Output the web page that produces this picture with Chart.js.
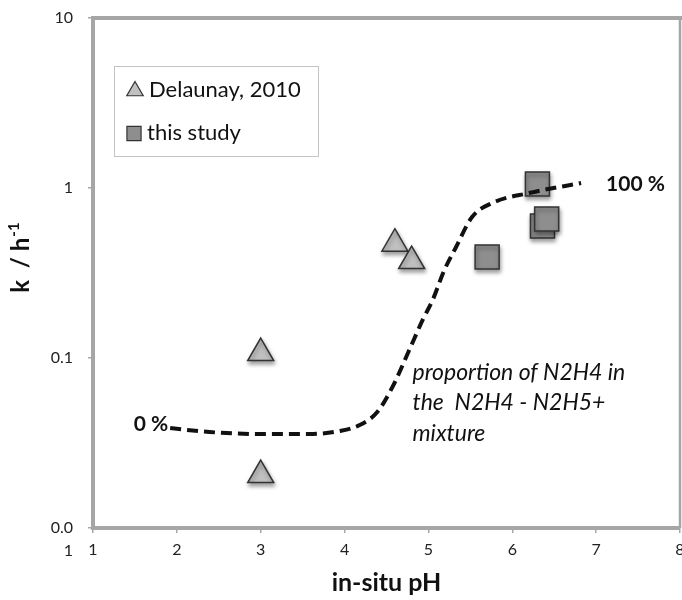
<!DOCTYPE html>
<html>
<head>
<meta charset="utf-8">
<script src="https://cdn.jsdelivr.net/npm/chart.js@4.4.1/dist/chart.umd.min.js"></script>
<style>
  html, body { margin: 0; padding: 0; background: #ffffff; }
  #wrap { width: 682px; height: 600px; }
</style>
</head>
<body>
<div id="wrap"><canvas id="c" width="682" height="600"></canvas></div>
<script>
// Delaunay, 2010: rate constants k (h^-1) against in-situ pH
const delaunayPH = [3.0, 3.0, 4.6, 4.8];
const delaunayK  = [0.107, 0.0205, 0.47, 0.372];

// this study
const studyPH = [5.7, 6.3, 6.36, 6.41];
const studyK  = [0.393, 1.057, 0.598, 0.657];

// proportion of N2H4 in the N2H4 - N2H5+ mixture (0 % .. 100 %), on the k axis
const curvePH = [1.92, 2.39, 2.99, 3.58, 3.94, 4.18, 4.39, 4.57, 4.77, 4.93, 5.05, 5.19, 5.33, 5.52, 5.76, 6.20, 6.82];
const curveK  = [0.0387, 0.0367, 0.0357, 0.0357, 0.0372, 0.0403, 0.0481, 0.0674, 0.111, 0.167, 0.219, 0.329, 0.450, 0.675, 0.816, 0.934, 1.07];

// axis ticks
const xTickValues = [1, 2, 3, 4, 5, 6, 7, 8];
const yTickValues = [0.01, 0.1, 1, 10];
const yTickLabels = [['', '0.0', '1'], '0.1', '1', '10'];

// texts
const seriesNames = ['Delaunay, 2010', 'this study'];
const curveStartText = '0 %';
const curveEndText = '100 %';
const noteLines = ['proportion of N2H4 in', 'the  N2H4 - N2H5+', 'mixture'];
const xTitle = 'in-situ pH';
const yTitleMain = 'k  / h';
const yTitleSup = '-1';

const FONT = 'Lato, "Open Sans", sans-serif';
const AXIS_GREY = '#a6a6a6';

const toPoints = (xs, ys) => xs.map((x, i) => ({ x: x, y: ys[i] }));

// labels may overhang the plot edges; the layout keeps no room for them
function noOverhang(s) {
  s.paddingLeft = 0;
  s.paddingRight = 0;
  s.paddingTop = 0;
  s.paddingBottom = 0;
}

// frame, marker shadows, legend, titles and annotations
const decor = {
  id: 'decor',
  beforeDatasetsDraw(chart) {
    const { ctx, chartArea: a } = chart;
    ctx.save();
    ctx.strokeStyle = AXIS_GREY;
    ctx.lineWidth = 4;
    ctx.beginPath();
    ctx.moveTo(a.left, a.top);
    ctx.lineTo(chart.width, a.top);
    ctx.stroke();
    ctx.lineWidth = 2.5;
    ctx.beginPath();
    ctx.moveTo(a.right, a.top);
    ctx.lineTo(a.right, a.bottom);
    ctx.stroke();
    ctx.restore();
  },
  beforeDatasetDraw(chart, args) {
    if (chart.data.datasets[args.index].shadow) {
      const ctx = chart.ctx;
      ctx.save();
      ctx.shadowColor = 'rgba(0,0,0,0.38)';
      ctx.shadowBlur = 4;
      ctx.shadowOffsetX = 1;
      ctx.shadowOffsetY = 3;
    }
  },
  afterDatasetDraw(chart, args) {
    if (chart.data.datasets[args.index].shadow) chart.ctx.restore();
  },
  afterDraw(chart) {
    const { ctx, chartArea: a, scales: { x, y } } = chart;
    const ds = chart.data.datasets;
    ctx.save();

    // legend box
    ctx.strokeStyle = '#c4c4c4';
    ctx.lineWidth = 1;
    ctx.strokeRect(114.5, 66.5, 204, 90);
    const legendRows = [
      { d: ds[1], px: 135, py: 91, r: 9.5, tx: 149, ty: 90 },
      { d: ds[2], px: 134, py: 133.5, r: 10, tx: 147, ty: 133 }
    ];
    ctx.font = '22px ' + FONT;
    ctx.textBaseline = 'middle';
    ctx.textAlign = 'left';
    legendRows.forEach(row => {
      ctx.fillStyle = row.d.backgroundColor;
      ctx.strokeStyle = row.d.borderColor;
      ctx.lineWidth = 1.2;
      Chart.helpers.drawPoint(ctx, { pointStyle: row.d.pointStyle, radius: row.r, borderWidth: 1.2, rotation: 0 }, row.px, row.py);
      ctx.fillStyle = '#111';
      ctx.fillText(row.d.label, row.tx, row.ty);
    });

    // curve end labels
    const x0 = x.getPixelForValue(curvePH[0]);
    const y0 = y.getPixelForValue(curveK[0]);
    const n = curvePH.length - 1;
    const x1 = x.getPixelForValue(curvePH[n]);
    const y1 = y.getPixelForValue(curveK[n]);
    ctx.fillStyle = '#111';
    ctx.font = 'bold 21px ' + FONT;
    ctx.textAlign = 'right';
    ctx.fillText(curveStartText, x0 - 2, y0 - 4);
    ctx.textAlign = 'left';
    ctx.fillText(curveEndText, x1 + 25, y1 + 1);

    // note beside the curve
    ctx.font = 'italic 23px ' + FONT;
    ctx.textBaseline = 'alphabetic';
    const nx = x.getPixelForValue(4.81);
    const ny = y.getPixelForValue(0.0745);
    noteLines.forEach((t, i) => ctx.fillText(t, nx, ny + i * 30.5));

    // x axis title
    ctx.font = 'bold 25px ' + FONT;
    ctx.textAlign = 'center';
    ctx.fillText(xTitle, (a.left + a.right) / 2, 591);

    // y axis title with superscript
    ctx.translate(29, 258);
    ctx.rotate(-Math.PI / 2);
    ctx.font = 'bold 24px ' + FONT;
    const w1 = ctx.measureText(yTitleMain).width;
    ctx.font = 'bold 15px ' + FONT;
    const w2 = ctx.measureText(yTitleSup).width;
    const sx = -(w1 + w2) / 2;
    ctx.textAlign = 'left';
    ctx.font = 'bold 24px ' + FONT;
    ctx.fillText(yTitleMain, sx, 0);
    ctx.font = 'bold 15px ' + FONT;
    ctx.fillText(yTitleSup, sx + w1 + 1, -10);
    ctx.restore();
  }
};

new Chart(document.getElementById('c'), {
  type: 'scatter',
  data: {
    datasets: [
      {
        type: 'line',
        label: 'N2H4 proportion',
        data: toPoints(curvePH, curveK),
        borderColor: '#111111',
        borderWidth: 4,
        borderDash: [11, 6],
        pointRadius: 0,
        cubicInterpolationMode: 'monotone',
        fill: false,
        order: 0
      },
      {
        label: seriesNames[0],
        data: toPoints(delaunayPH, delaunayK),
        pointStyle: 'triangle',
        pointRadius: 15,
        pointHoverRadius: 15,
        backgroundColor: '#c0c0c0',
        borderColor: '#333333',
        borderWidth: 1.5,
        shadow: true,
        order: 2
      },
      {
        label: seriesNames[1],
        data: toPoints(studyPH, studyK),
        pointStyle: 'rect',
        pointRadius: 17,
        pointHoverRadius: 17,
        backgroundColor: '#8e8e8e',
        borderColor: '#333333',
        borderWidth: 1.5,
        shadow: true,
        order: 1
      }
    ]
  },
  options: {
    responsive: false,
    animation: false,
    devicePixelRatio: 1,
    layout: { autoPadding: false, padding: { top: 18, right: 2, left: 0, bottom: 0 } },
    plugins: { legend: { display: false }, tooltip: { enabled: false } },
    scales: {
      x: {
        type: 'linear',
        min: 1,
        max: 8,
        afterFit(s) { s.height = 72; noOverhang(s); },
        afterBuildTicks(s) { s.ticks = xTickValues.map(v => ({ value: v })); },
        ticks: { autoSkip: false, maxRotation: 0, padding: 7, color: '#222', font: { family: FONT, size: 16 } },
        grid: { drawOnChartArea: false, tickLength: 5, color: AXIS_GREY, lineWidth: 1.5 },
        border: { color: AXIS_GREY, width: 4 }
      },
      y: {
        type: 'logarithmic',
        min: 0.01,
        max: 10,
        afterFit(s) { s.width = 93; noOverhang(s); },
        afterBuildTicks(s) { s.ticks = yTickValues.map(v => ({ value: v })); },
        ticks: {
          autoSkip: false,
          padding: 15,
          color: '#222',
          font: { family: FONT, size: 16, lineHeight: 1.4 },
          callback: v => yTickLabels[yTickValues.indexOf(v)]
        },
        grid: { drawOnChartArea: false, tickLength: 5, color: AXIS_GREY, lineWidth: 1.5 },
        border: { color: AXIS_GREY, width: 4 }
      }
    }
  },
  plugins: [decor]
});
</script>
</body>
</html>
